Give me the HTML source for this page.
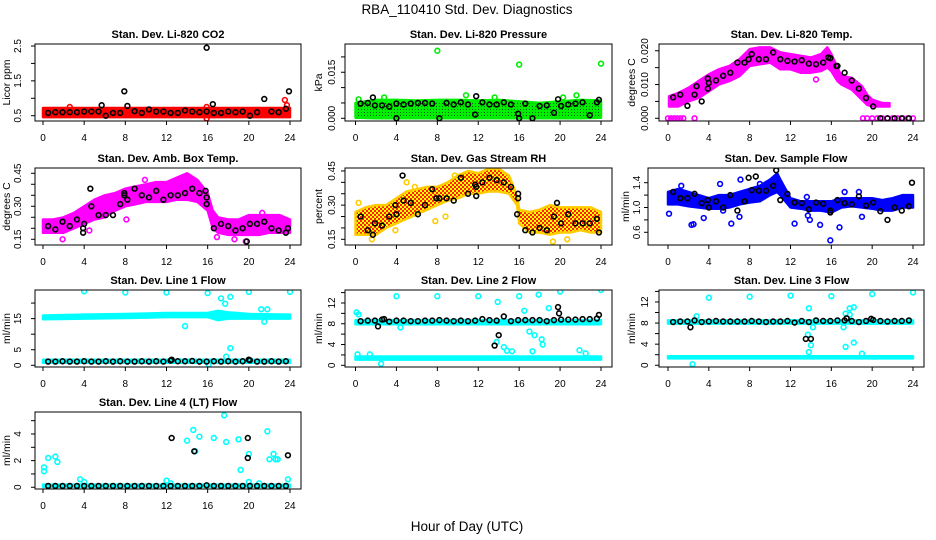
<!DOCTYPE html>
<html><head><meta charset="utf-8"><title>RBA_110410 Std. Dev. Diagnostics</title>
<style>
html,body{margin:0;padding:0;background:#fff;}
svg{display:block;font-family:"Liberation Sans",Arial,sans-serif;}
</style></head>
<body>
<svg id="chart" width="936" height="540" viewBox="0 0 936 540" xmlns="http://www.w3.org/2000/svg">
<defs>
<pattern id="rhPat" width="4" height="4" patternUnits="userSpaceOnUse">
<rect width="4" height="4" fill="#ffff00"/><rect width="2" height="2" fill="#ff2000"/><rect x="2" y="2" width="2" height="2" fill="#ff2000"/>
</pattern>
<pattern id="grPat" width="3" height="3" patternUnits="userSpaceOnUse">
<rect width="3" height="3" fill="#00ee00"/><rect x="1" y="1" width="1" height="1" fill="#006000"/>
</pattern>
</defs>
<text x="467" y="14" font-size="13.5" text-anchor="middle">RBA_110410  Std. Dev. Diagnostics</text>
<text x="467" y="531" font-size="13.5" text-anchor="middle">Hour of Day (UTC)</text>
<g id="panels"></g>
</svg>
<script>
// common sampling hours for the black (averaged) series
const H = [0.5,1.2,1.9,2.6,3.3,4.0,4.7,5.4,6.1,6.8,7.5,8.2,8.9,9.6,10.3,11.0,11.7,12.4,13.1,13.8,14.5,15.2,15.9,16.6,17.3,18.0,18.7,19.4,20.1,20.8,21.5,22.2,22.9,23.6];
const xTicks = [0,4,8,12,16,20,24];

// Panel 1: CO2
const co2BandH = [0,24], co2BandLo = [0.46,0.46], co2BandHi = [0.72,0.72];
const co2OutX = [2.6,15.9,15.9,23.5,23.7], co2OutY = [0.75,0.42,0.75,0.95,0.8];
const co2Blk = [0.58,0.6,0.6,0.6,0.6,0.62,0.62,0.62,0.5,0.58,0.58,0.78,0.63,0.58,0.68,0.62,0.62,0.58,0.58,0.65,0.62,0.6,0.62,0.58,0.58,0.62,0.6,0.62,0.5,0.6,0.98,0.62,0.6,0.7];
const co2BlkX = [7.9,15.9,16.5,23.9,5.7], co2BlkY = [1.2,2.45,0.83,1.2,0.8];

// Panel 2: Pressure
const prBandH = [0,2,4,6,8,10,12,14,16,18,20,22,24];
const prBandLo = [0.0002,0,0,0,0,0,0,0,0,0,0,0,0.0002];
const prBandHi = [0.005,0.006,0.006,0.0058,0.006,0.006,0.0058,0.006,0.0055,0.005,0.0055,0.006,0.0058];
const prOutX = [8,16,24,10.8,21.6,2.8,13.6,20.3,0.3], prOutY = [0.022,0.0175,0.0178,0.0075,0.0075,0.0068,0.0068,0.0068,0.0062];
const prBlk = [0.0048,0.005,0.0042,0.0042,0.0038,0.0048,0.0045,0.0048,0.005,0.005,0.0048,0,0.005,0.0045,0.0052,0.0045,0.0012,0.0052,0.0045,0.0045,0.0052,0.0045,0.0015,0.0048,0,0.004,0.0042,0.0018,0.004,0.0045,0.0048,0.0052,0.001,0.0052];
const prBlkX = [1.7,11.8,19.8,4,16,23.8], prBlkY = [0.0068,0.0072,0.0062,0,0,0.006];

// Panel 3: Li-820 Temp
const tpBandH = [0.1,1,2,3,4,5,6,7,8,9,10,11,12,13,14,15,15.6,16,16.6,17,18,19,19.5,20,21,21.7];
const tpBandLo = [0.0035,0.0035,0.005,0.006,0.008,0.01,0.011,0.0125,0.0155,0.016,0.0165,0.0145,0.0145,0.0135,0.0135,0.014,0.015,0.014,0.011,0.01,0.0085,0.0055,0.004,0.0035,0.0035,0.0035];
const tpBandHi = [0.0065,0.0075,0.009,0.011,0.013,0.0145,0.0155,0.0175,0.0205,0.021,0.021,0.0195,0.019,0.0185,0.018,0.019,0.021,0.019,0.015,0.0125,0.012,0.0095,0.007,0.0055,0.0045,0.0045];
const tpOutX = [0,0.3,0.6,0.9,1.2,1.5,2.6,19.1,19.5,20,20.5,21,21.5,22,22.5,23,23.5,24,14.5], tpOutY = [0,0,0,0,0,0,0,0,0,0,0,0,0,0,0,0,0,0,0.0115];
const tpBlk = [0.0062,0.007,0.0037,0.007,0.005,0.0105,0.0112,0.0126,0.0135,0.0165,0.0165,0.019,0.0175,0.0175,0.0195,0.0175,0.017,0.0168,0.0172,0.0162,0.016,0.0165,0.0178,0.0155,0.0135,0.0112,0.0088,0.006,0.0035,0,0,0,0,0];
const tpBlkX = [3.9,3.9,7.9,2.8,15.7,16.5], tpBlkY = [0.0118,0.0088,0.0175,0.0095,0.018,0.0155];

// Panel 4: Amb. Box Temp
const abBandH = [0,1,2,3,4,5,6,7,8,9,10,11,12,13,14,15,16,16.5,17,18,19,20,21,22,23,24];
const abBandLo = [0.18,0.18,0.18,0.2,0.22,0.24,0.25,0.28,0.3,0.31,0.32,0.32,0.32,0.33,0.33,0.32,0.28,0.2,0.18,0.17,0.17,0.17,0.17,0.18,0.18,0.18];
const abBandHi = [0.24,0.24,0.25,0.27,0.3,0.33,0.35,0.36,0.38,0.39,0.4,0.41,0.41,0.43,0.45,0.42,0.36,0.28,0.25,0.24,0.24,0.26,0.26,0.26,0.26,0.24];
const abOutX = [1.9,4.5,8.1,9.9,21.3,19.7,18.6,16.9], abOutY = [0.15,0.19,0.24,0.42,0.27,0.14,0.15,0.16];
const abBlk = [0.21,0.195,0.23,0.21,0.24,0.22,0.3,0.26,0.26,0.26,0.31,0.33,0.38,0.35,0.34,0.37,0.33,0.35,0.35,0.36,0.38,0.36,0.34,0.2,0.22,0.21,0.19,0.2,0.22,0.22,0.23,0.2,0.19,0.18];
const abBlkX = [4.6,3.9,3.9,7.9,7.9,19.8,23.8,15.8,15.9], abBlkY = [0.38,0.18,0.2,0.35,0.36,0.14,0.2,0.37,0.31];

// Panel 5: Gas Stream RH
const rhBandH = [0,1,2,3,4,5,6,7,8,9,10,11,12,13,14,15,15.8,16,17,18,19,20,21,22,23,24];
const rhBandLo = [0.17,0.17,0.17,0.2,0.22,0.24,0.26,0.28,0.3,0.32,0.33,0.35,0.35,0.36,0.36,0.35,0.3,0.22,0.18,0.18,0.17,0.18,0.18,0.19,0.18,0.18];
const rhBandHi = [0.27,0.29,0.3,0.3,0.33,0.36,0.37,0.38,0.38,0.4,0.43,0.45,0.44,0.46,0.46,0.43,0.34,0.28,0.27,0.28,0.3,0.29,0.29,0.29,0.29,0.27];
const rhOutX = [0.3,1.6,3.9,5,5.8,7.8,8.8,19.3,20.7,9.7], rhOutY = [0.31,0.15,0.19,0.4,0.38,0.23,0.25,0.14,0.15,0.43];
const rhBlk = [0.25,0.19,0.22,0.21,0.25,0.26,0.32,0.31,0.26,0.3,0.37,0.33,0.33,0.32,0.42,0.35,0.39,0.4,0.42,0.41,0.4,0.38,0.33,0.19,0.18,0.2,0.19,0.25,0.22,0.26,0.22,0.22,0.22,0.24];
const rhBlkX = [4.6,1.7,3.9,15.8,15.9,11.8,11.8,19.7,23.8,7.9], rhBlkY = [0.43,0.17,0.3,0.26,0.35,0.38,0.34,0.31,0.18,0.33];

// Panel 6: Sample Flow
const sfBandH = [0,1,2,3,4,5,6,7,8,9,10,10.7,11,11.5,12,13,14,15,16,17,18,19,20,21,22,23,24];
const sfBandLo = [1.05,1.05,1.02,1.0,0.98,0.98,1.0,1.05,1.08,1.1,1.2,1.25,1.2,1.1,1.0,0.98,0.95,0.95,0.92,1.0,1.02,1.0,0.98,0.95,0.95,1.0,1.0];
const sfBandHi = [1.25,1.3,1.25,1.2,1.15,1.2,1.2,1.25,1.3,1.35,1.45,1.55,1.45,1.3,1.15,1.1,1.1,1.1,1.1,1.15,1.15,1.15,1.15,1.12,1.15,1.2,1.2];
const sfOutX = [0.1,2.3,2.5,3.5,5.4,6.2,7,9,12.4,13.7,13.9,14.9,15.9,16.8,19,13.6,17.3,18.7,5.1,7.1,1.3], sfOutY = [0.9,0.72,0.73,0.83,0.95,0.74,0.85,1.38,0.74,0.87,0.8,0.72,0.47,0.68,0.85,1.17,1.25,1.25,1.38,1.45,1.35];
const sfBlk = [1.25,1.15,1.15,1.22,1.07,1.0,1.1,1.0,1.2,0.95,1.1,1.28,1.27,1.27,1.35,1.12,1.22,1.08,1.07,0.97,1.08,1.06,0.92,1.12,1.07,1.05,1.18,1.03,1.08,0.94,0.8,1.0,0.95,1.02];
const sfBlkX = [7.9,8.6,10.6,23.9,3.9,15.9], sfBlkY = [1.48,1.5,1.6,1.4,1.12,0.95];

// Panel 7: Line 1 Flow
const l1BandH = [0,4,8,12,16,17,18,20,24], l1BandLo = [14.8,15,15.2,15.5,15.5,14.5,15,15,15], l1BandHi = [16,16.3,16.5,16.8,16.8,17.5,17,16.5,16.3];
const l1Band2H = [0,24], l1Band2Lo = [0.8,0.8], l1Band2Hi = [1.8,1.8];
const l1OutX = [4,8,12,16,20,24,17.3,17.7,18.2,13.8,18.2,17.8,16.1,21.2,21.8,21.5], l1OutY = [23.8,23.4,23.4,23.2,23.6,23.6,21.5,19.8,22,12.6,5.5,2.8,0.3,18,18,14];
const l1Blk = [1.2,1.2,1.3,1.2,1.2,1.3,1.2,1.2,1.3,1.2,1.3,1.2,1.2,1.3,1.2,1.3,1.2,1.5,1.3,1.3,1.4,1.2,1.2,1.3,1.2,1.3,1.2,1.3,1.6,1.2,1.2,1.3,1.2,1.3];
const l1BlkX = [20,12.5], l1BlkY = [1.8,1.8];

// Panel 8: Line 2 Flow
const l2BandH = [0,24], l2BandLo = [7.9,7.9], l2BandHi = [8.7,8.7];
const l2Band2H = [0,24], l2Band2Lo = [1.1,1.1], l2Band2Hi = [1.7,1.7];
const l2OutX = [0.1,0.3,4,8,12,16,17.9,20,24,13.9,16.5,18.9,17,17.5,18.2,18.3,13.8,14.5,14.8,15.3,17.3,21.9,22.5,2.5,0.2,1.4,4.4], l2OutY = [10.2,9.8,13.3,13.3,13.3,13.3,13.6,14.2,14.5,12.2,10.5,11,6.5,5.8,5,4,4.5,3.5,2.8,2.7,2.7,2.9,2.3,0.3,2.1,2.1,7.3];
const l2Blk = [8.5,8.6,8.6,8.8,8.4,8.6,8.6,8.5,8.5,8.6,8.6,8.7,8.6,8.5,8.6,8.5,8.6,8.9,8.7,8.6,9.4,8.5,8.7,8.7,8.7,8.7,8.5,8.7,8.8,8.8,8.8,8.9,8.9,9.0];
const l2BlkX = [2.2,2.8,13.6,14,19.8,19.9,23.8], l2BlkY = [7.5,8.9,3.8,5.8,11.2,10,9.7];

// Panel 9: Line 3 Flow
const l3BandH = [0,24], l3BandLo = [7.9,7.9], l3BandHi = [8.5,8.5];
const l3Band2H = [0,24], l3Band2Lo = [1.3,1.3], l3Band2Hi = [1.7,1.7];
const l3OutX = [4,8,12,16,20,24,2.8,13.8,17.4,17.8,18.2,17.8,13.7,14,13.8,17.4,18.2,19,2.4,17.2,14.2], l3OutY = [12.8,13,13.2,13.1,13.5,13.8,9.3,10.8,9.8,10.8,11,9.6,5.8,3.8,2.5,3.5,4.3,2.2,0.2,7.2,7.2];
const l3Blk = [8.2,8.3,8.3,8.5,8.2,8.3,8.4,8.3,8.3,8.3,8.3,8.4,8.3,8.2,8.3,8.3,8.4,8.1,8.4,8.2,8.5,8.4,8.4,8.5,8.5,8.4,8.2,8.4,8.6,8.4,8.3,8.4,8.4,8.5];
const l3BlkX = [2.2,13.5,14,17.5,19.9], l3BlkY = [7.2,5,5,8.9,8.8];

// Panel 10: Line 4 (LT) Flow
const l4BandH = [0,24], l4BandLo = [0.03,0.03], l4BandHi = [0.2,0.2];
const l4OutX = [0.1,0.1,0.5,1.2,1.4,3.6,4,12,12.4,14,14.6,14.8,15.2,16.6,17.6,17.8,19,19.2,20,20,21.8,22,22.4,22.6,22.8,23.8,21], l4OutY = [1.2,1.5,2.2,2.3,1.9,0.6,0.4,0.5,0.3,3.5,4.3,2.7,3.8,3.7,5.4,3.4,3.6,1.3,2.5,0.4,4.2,2.1,2.5,2.1,2.1,0.6,0.3];
const l4Blk = [0.1,0.1,0.1,0.1,0.1,0.1,0.1,0.1,0.1,0.1,0.1,0.1,0.1,0.1,0.1,0.1,0.1,0.1,0.1,0.1,0.1,0.1,0.15,0.1,0.1,0.1,0.1,0.1,0.1,0.1,0.1,0.1,0.1,0.1];
const l4BlkX = [12.5,14.7,19.9,19.9,23.8], l4BlkY = [3.7,2.7,3.7,2.2,2.4];

const NS = 'http://www.w3.org/2000/svg';
const root = document.getElementById('panels');
function mk(tag, attrs, parent){ const e = document.createElementNS(NS, tag); for (const k in attrs) e.setAttribute(k, attrs[k]); parent.appendChild(e); return e; }

const col = [
  {l:35, r:301, x0:43, x24:290, tx:21, lx:10},
  {l:345, r:612, x0:355.5, x24:601, tx:335, lx:322},
  {l:659, r:924, x0:668, x24:913, tx:648, lx:635}
];
const row = [{t:44,b:121},{t:168,b:245},{t:290,b:367},{t:412,b:489}];

const panels = [
 {name:'co2', title:'Stan. Dev. Li-820 CO2', ylab:'Licor ppm', c:0, r:0, yLo:0.348, yHi:2.557, ticks:[0.5,1,1.5,2,2.5], labels:['0.5','','1.5','','2.5'], color:'#ff0000', fill:'#ff0000',
  bands:[[co2BandH,co2BandLo,co2BandHi]], ox:co2OutX, oy:co2OutY, blk:co2Blk, bx:co2BlkX, by:co2BlkY},
 {name:'pressure', title:'Stan. Dev. Li-820 Pressure', ylab:'kPa', c:1, r:0, yLo:-0.00088, yHi:0.0242, ticks:[0,0.005,0.01,0.015,0.02], labels:['0.000','','','0.015',''], color:'#00ee00', fill:'url(#grPat)',
  bands:[[prBandH,prBandLo,prBandHi]], ox:prOutX, oy:prOutY, blk:prBlk, bx:prBlkX, by:prBlkY},
 {name:'li820-temp', title:'Stan. Dev. Li-820 Temp.', ylab:'degrees C', c:2, r:0, yLo:-0.0008, yHi:0.022, ticks:[0,0.005,0.01,0.015,0.02], labels:['0.000','','0.010','','0.020'], color:'#ff00ff', fill:'#ff00ff',
  bands:[[tpBandH,tpBandLo,tpBandHi]], ox:tpOutX, oy:tpOutY, blk:tpBlk, bx:tpBlkX, by:tpBlkY},
 {name:'amb-box-temp', title:'Stan. Dev. Amb. Box Temp.', ylab:'degrees C', c:0, r:1, yLo:0.124, yHi:0.474, ticks:[0.15,0.2,0.25,0.3,0.35,0.4,0.45], labels:['0.15','','','0.30','','','0.45'], color:'#ff00ff', fill:'#ff00ff',
  bands:[[abBandH,abBandLo,abBandHi]], ox:abOutX, oy:abOutY, blk:abBlk, bx:abBlkX, by:abBlkY},
 {name:'gas-stream-rh', title:'Stan. Dev. Gas Stream RH', ylab:'percent', c:1, r:1, yLo:0.125, yHi:0.463, ticks:[0.15,0.2,0.25,0.3,0.35,0.4,0.45], labels:['0.15','','','0.30','','','0.45'], color:'#ffcc00', fill:'url(#rhPat)',
  bands:[[rhBandH,rhBandLo,rhBandHi]], ox:rhOutX, oy:rhOutY, blk:rhBlk, bx:rhBlkX, by:rhBlkY},
 {name:'sample-flow', title:'Stan. Dev. Sample Flow', ylab:'ml/min', c:2, r:1, yLo:0.395, yHi:1.637, ticks:[0.6,0.8,1.0,1.2,1.4], labels:['0.6','','1.0','','1.4'], color:'#0000ff', fill:'#0000ff', left:648, tx:640, lx:629,
  bands:[[sfBandH,sfBandLo,sfBandHi]], ox:sfOutX, oy:sfOutY, blk:sfBlk, bx:sfBlkX, by:sfBlkY},
 {name:'line1-flow', title:'Stan. Dev. Line 1 Flow', ylab:'ml/min', c:0, r:2, yLo:-0.55, yHi:24.2, ticks:[0,5,10,15,20], labels:['0','5','','15',''], color:'#00ffff', fill:'#00ffff',
  bands:[[l1BandH,l1BandLo,l1BandHi],[l1Band2H,l1Band2Lo,l1Band2Hi]], ox:l1OutX, oy:l1OutY, blk:l1Blk, bx:l1BlkX, by:l1BlkY},
 {name:'line2-flow', title:'Stan. Dev. Line 2 Flow', ylab:'ml/min', c:1, r:2, yLo:-0.33, yHi:14.5, ticks:[0,2,4,6,8,10,12,14], labels:['0','','4','','8','','12',''], color:'#00ffff', fill:'#00ffff',
  bands:[[l2BandH,l2BandLo,l2BandHi],[l2Band2H,l2Band2Lo,l2Band2Hi]], ox:l2OutX, oy:l2OutY, blk:l2Blk, bx:l2BlkX, by:l2BlkY},
 {name:'line3-flow', title:'Stan. Dev. Line 3 Flow', ylab:'ml/min', c:2, r:2, yLo:-0.33, yHi:14.27, ticks:[0,2,4,6,8,10,12,14], labels:['0','','4','','8','','12',''], color:'#00ffff', fill:'#00ffff',
  bands:[[l3BandH,l3BandLo,l3BandHi],[l3Band2H,l3Band2Lo,l3Band2Hi]], ox:l3OutX, oy:l3OutY, blk:l3Blk, bx:l3BlkX, by:l3BlkY},
 {name:'line4-flow', title:'Stan. Dev. Line 4 (LT) Flow', ylab:'ml/min', c:0, r:3, yLo:-0.13, yHi:5.65, ticks:[0,1,2,3,4,5], labels:['0','','2','','4',''], color:'#00ffff', fill:'#00ffff',
  bands:[[l4BandH,l4BandLo,l4BandHi]], ox:l4OutX, oy:l4OutY, blk:l4Blk, bx:l4BlkX, by:l4BlkY}
];

panels.forEach(p => {
  const C = col[p.c], R = row[p.r];
  const L = p.left || C.l;
  const TX = p.tx || C.tx, LX = p.lx || C.lx;
  const xs = h => C.x0 + (C.x24 - C.x0) * h / 24;
  const ys = v => R.b - (v - p.yLo) / (p.yHi - p.yLo) * (R.b - R.t);
  const g = mk('g', {}, root);
  
  
  const clipId = 'clip-' + p.name;
  const cp = mk('clipPath', {id: clipId}, g);
  mk('rect', {x: L, y: R.t, width: C.r - L, height: R.b - R.t}, cp);
  const t = mk('text', {x: (L + C.r) / 2, y: R.t - 6, 'font-size': 11, 'font-weight': 'bold', 'text-anchor': 'middle'}, g);
  
  
  t.textContent = p.title;
  const yl = mk('text', {x: LX, y: (R.t + R.b) / 2, 'font-size': 10.5, 'text-anchor': 'middle', transform: `rotate(-90 ${LX} ${(R.t + R.b) / 2})`}, g);
  
  
  yl.textContent = p.ylab;
  const plot = mk('g', {'clip-path': `url(#${clipId})`}, g);
  
  
  p.bands.forEach(b => {
    const [bh, lo, hi] = b;
    let pts = bh.map((h, i) => xs(h).toFixed(1) + ',' + ys(hi[i]).toFixed(1));
    for (let i = bh.length - 1; i >= 0; i--) pts.push(xs(bh[i]).toFixed(1) + ',' + ys(lo[i]).toFixed(1));
    const poly = mk('polygon', {points: pts.join(' '), fill: p.fill, stroke: p.color, 'stroke-width': 2.5, 'stroke-linejoin': 'round'}, plot);
    
    
  });
  p.ox.forEach((x, i) => {
    const c = mk('circle', {cx: xs(x), cy: ys(p.oy[i]), r: 2.4, fill: 'none', stroke: p.color, 'stroke-width': 1.6}, plot);
    
    
  });
  const blkPts = H.map((h, i) => [h, p.blk[i]]).concat(p.bx.map((x, i) => [x, p.by[i]]));
  blkPts.forEach(([x, y]) => {
    const c = mk('circle', {cx: xs(x), cy: ys(y), r: 2.4, fill: 'none', stroke: '#000', 'stroke-width': 1.6}, plot);
    
    
  });
  const box = mk('rect', {x: L, y: R.t, width: C.r - L, height: R.b - R.t, fill: 'none', stroke: '#000', 'stroke-width': 1}, g);
  
  
  p.ticks.forEach((v, i) => {
    const y = ys(v);
    mk('line', {x1: L, x2: L - 4, y1: y, y2: y, stroke: '#000'}, g);
    if (p.labels[i]) {
      const tl = mk('text', {x: TX, y: y, 'font-size': 10, 'text-anchor': 'middle', transform: `rotate(-90 ${TX} ${y})`}, g);
      
      
      tl.textContent = p.labels[i];
    }
  });
  xTicks.forEach(h => {
    const x = xs(h);
    mk('line', {x1: x, x2: x, y1: R.b, y2: R.b + 4, stroke: '#000'}, g);
    const tl = mk('text', {x: x, y: R.b + 20, 'font-size': 10, 'text-anchor': 'middle'}, g);
    
    
    tl.textContent = h;
  });
});
</script>
</body></html>
